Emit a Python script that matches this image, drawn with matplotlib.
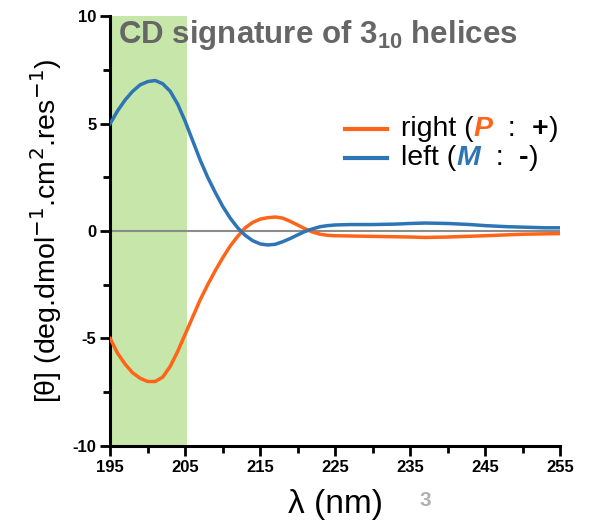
import matplotlib
matplotlib.use("Agg")
import matplotlib.pyplot as plt
from matplotlib.offsetbox import TextArea, HPacker, VPacker, DrawingArea, AnchoredOffsetbox
from matplotlib.lines import Line2D

plt.rcParams['font.family'] = ['Liberation Sans', 'DejaVu Sans']

wl_left = [195, 196, 197, 198, 199, 200, 201, 202, 203, 204, 205, 206, 207, 208, 209, 210,
           211, 212, 213, 214, 215, 216, 217, 218, 219, 220, 221, 222, 223, 224, 225,
           227, 230, 233, 235, 237, 240, 243, 245, 248, 250, 253, 255]
left_vals = [5.0, 5.6, 6.1, 6.5, 6.8, 6.95, 7.0, 6.85, 6.5, 5.9, 5.1, 4.2, 3.3, 2.5, 1.8, 1.15,
             0.6, 0.15, -0.2, -0.45, -0.6, -0.65, -0.62, -0.5, -0.35, -0.18, -0.02, 0.1, 0.2, 0.25, 0.28,
             0.3, 0.3, 0.32, 0.35, 0.37, 0.35, 0.3, 0.25, 0.2, 0.18, 0.15, 0.15]

wl_right = [195, 196, 197, 198, 199, 200, 201, 202, 203, 204, 205, 206, 207, 208, 209, 210,
            211, 212, 213, 214, 215, 216, 217, 218, 219, 220, 221, 222, 223, 224, 225,
            230, 235, 237, 240, 245, 250, 255]
right_vals = [-5.0, -5.7, -6.2, -6.6, -6.85, -7.0, -7.0, -6.8, -6.3, -5.6, -4.8, -4.0, -3.2, -2.5, -1.85, -1.25,
              -0.7, -0.25, 0.15, 0.4, 0.55, 0.62, 0.65, 0.6, 0.45, 0.28, 0.1, -0.05, -0.15, -0.2, -0.22,
              -0.25, -0.28, -0.3, -0.28, -0.22, -0.15, -0.12]

shade_range = [195, 205.3]
x_ticks = [195, 205, 215, 225, 235, 245, 255]
y_ticks = [-10, -5, 0, 5, 10]

orange = '#FF6419'
blue = '#2E75B6'

fig = plt.figure(figsize=(5.99, 5.25), dpi=100)
ax = fig.add_axes([0.184, 0.1505, 0.751, 0.819])

ax.axvspan(shade_range[0], shade_range[1], color='#C7E6A9', lw=0, zorder=0)
ax.axhline(0, color='#8c8c8c', lw=1.5, zorder=1)
ax.plot(wl_right, right_vals, color=orange, lw=2.5, zorder=3)
ax.plot(wl_left, left_vals, color=blue, lw=2.5, zorder=3)

ax.set_xlim(195, 255)
ax.set_ylim(-10, 10)
ax.set_xticks(x_ticks)
ax.set_xticks([200, 210, 220, 230, 240, 250], minor=True)
ax.set_yticks(y_ticks)
ax.set_yticks([-7.5, -2.5, 2.5, 7.5], minor=True)
ax.set_yticklabels([str(v) for v in y_ticks])
for s in ['top', 'right']:
    ax.spines[s].set_visible(False)
for s in ['left', 'bottom']:
    ax.spines[s].set_linewidth(2.2)
ax.tick_params(which='major', length=7, width=2, labelsize=12, pad=3)
ax.tick_params(which='minor', length=5, width=2)
for lab in ax.get_xticklabels() + ax.get_yticklabels():
    lab.set_fontweight('bold')

ax.set_xlabel('λ (nm)', fontsize=24, labelpad=10)
ax.set_ylabel('[θ] (deg.dmol$^{-1}$.cm$^{2}$.res$^{-1}$)', fontsize=20.5, labelpad=6)

ax.text(196.0, 9.1, 'CD signature of 3$_{\\mathregular{10}}$ helices', fontsize=22.5, fontweight='bold',
        color='#666666', va='center', ha='left')

fig.text(0.70, 0.047, '3', fontsize=15, fontweight='bold', color='#b0b0b0', ha='left', va='center')

# custom legend
def sample(color):
    da = DrawingArea(40, 12, 0, 0)
    da.add_artist(Line2D([0, 30], [6, 6], color=color, lw=3))
    return da

fs = 20.5
def ta(s, **kw):
    props = dict(fontsize=fs, color='black')
    props.update(kw)
    return TextArea(s, textprops=props)

row1 = HPacker(children=[sample(orange), ta('right ('),
                         ta('P', color=orange, fontweight='bold', fontstyle='italic'),
                         ta('  :  '), ta('+', fontweight='bold'), ta(')')],
               align='center', pad=0, sep=0)
row2 = HPacker(children=[sample(blue), ta('left ('),
                         ta('M', color=blue, fontweight='bold', fontstyle='italic'),
                         ta('  :  '), ta('-', fontweight='bold'), ta(')')],
               align='center', pad=0, sep=0)
box = VPacker(children=[row1, row2], align='left', pad=0, sep=2)
anch = AnchoredOffsetbox(loc='upper left', child=box, frameon=False,
                         bbox_to_anchor=(0.51, 0.78), bbox_transform=ax.transAxes, borderpad=0)
ax.add_artist(anch)

fig.savefig('out.png', dpi=100)
